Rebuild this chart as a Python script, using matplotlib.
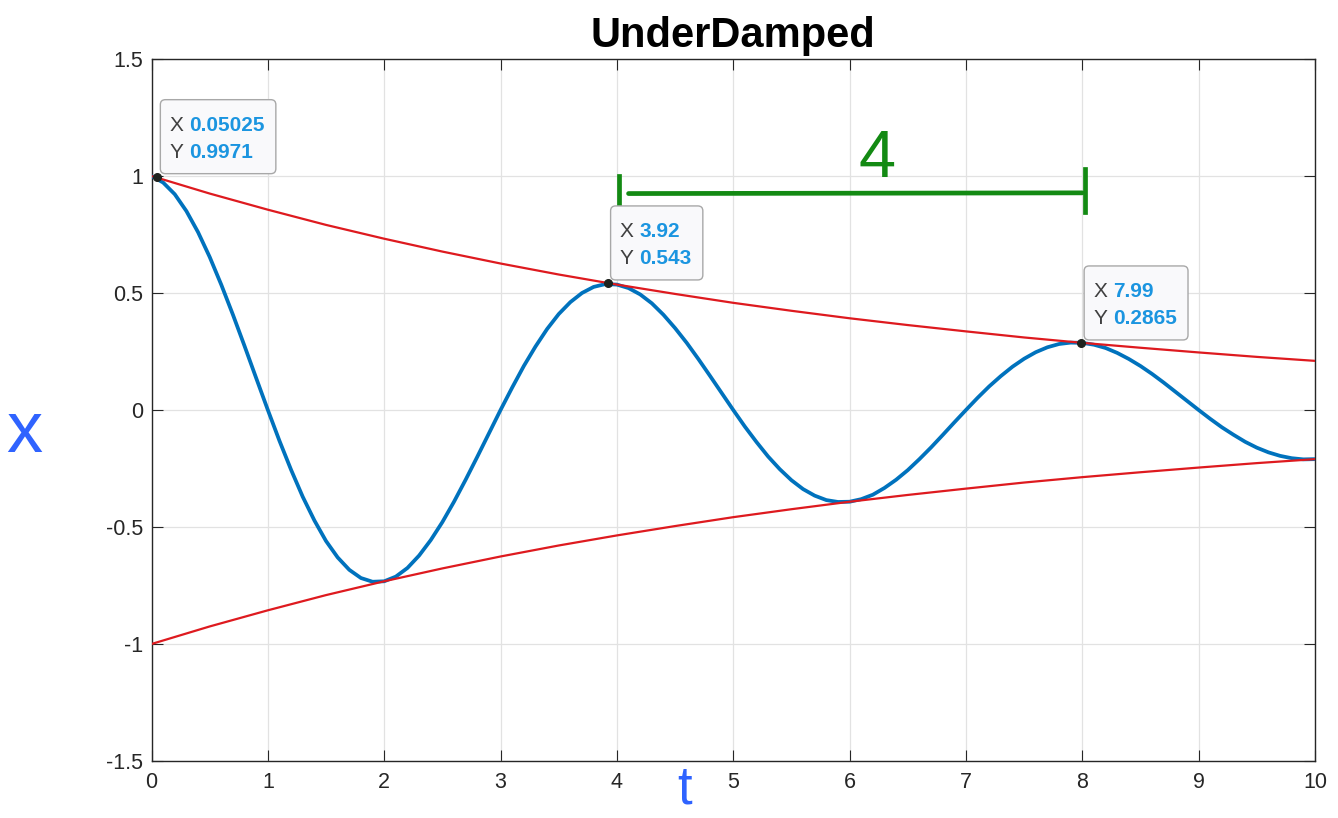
import numpy as np
import matplotlib
matplotlib.use("Agg")
import matplotlib.pyplot as plt
import matplotlib.transforms as mtransforms
from matplotlib.patches import FancyBboxPatch
from matplotlib.ticker import FuncFormatter

# response x(t), every 0.1 s from t=0 to t=10
t_step = 0.1
x_vals = [
    1.000, 0.972, 0.922, 0.850, 0.760, 0.654, 0.535, 0.407, 0.273, 0.136,
    0.000, -0.132, -0.256, -0.371, -0.472, -0.560, -0.630, -0.683, -0.718, -0.734,
    -0.732, -0.712, -0.675, -0.622, -0.556, -0.479, -0.392, -0.298, -0.200, -0.100,
    0.000, 0.096, 0.188, 0.271, 0.346, 0.410, 0.461, 0.500, 0.526, 0.538,
    0.536, 0.521, 0.494, 0.456, 0.407, 0.350, 0.287, 0.218, 0.146, 0.073,
    0.000, -0.071, -0.137, -0.199, -0.253, -0.300, -0.338, -0.366, -0.385, -0.393,
    -0.392, -0.381, -0.362, -0.333, -0.298, -0.257, -0.210, -0.160, -0.107, -0.053,
    0.000, 0.052, 0.101, 0.145, 0.185, 0.219, 0.247, 0.268, 0.282, 0.288,
    0.287, 0.279, 0.265, 0.244, 0.218, 0.188, 0.154, 0.117, 0.078, 0.039,
    0.000, -0.038, -0.074, -0.106, -0.136, -0.161, -0.181, -0.196, -0.206, -0.211,
    -0.210,
]

# decay envelope, every 0.5 s
env_step = 0.5
env_vals = [1.000, 0.925, 0.856, 0.791, 0.732, 0.677, 0.626, 0.579, 0.536, 0.496,
            0.458, 0.424, 0.392, 0.363, 0.336, 0.310, 0.287, 0.266, 0.246, 0.227,
            0.210]

# data tips
tip_x = [0.05025, 3.92, 7.99]
tip_y = [0.9971, 0.543, 0.2865]

# hand drawn period mark
period_span = [4, 8]

t = np.arange(len(x_vals)) * t_step
t_env = np.arange(len(env_vals)) * env_step
env = np.array(env_vals)

plt.rcParams["font.family"] = ["Liberation Sans", "DejaVu Sans"]
plt.rcParams["axes.unicode_minus"] = False

fig = plt.figure(figsize=(13.38, 8.18), dpi=100)
ax = fig.add_axes([151.5 / 1338, 1 - 761 / 818, (1315 - 151.5) / 1338, (761 - 59) / 818])

ax.plot(t, x_vals, color="#0072BD", lw=2.7, zorder=3,
        solid_joinstyle="round", solid_capstyle="round")
ax.plot(t_env, env, color="#de1a1f", lw=1.6, zorder=4)
ax.plot(t_env, -env, color="#de1a1f", lw=1.6, zorder=4)

ax.set_xlim(0, 10)
ax.set_ylim(-1.5, 1.5)
ax.set_xticks(np.arange(0, 11, 1))
ax.set_yticks(np.arange(-1.5, 1.51, 0.5))
ax.xaxis.set_major_formatter(FuncFormatter(lambda v, p: "%g" % v))
ax.yaxis.set_major_formatter(FuncFormatter(lambda v, p: "%g" % v))
ax.grid(True, color="#e2e2e2", lw=0.9)
ax.set_axisbelow(True)
ax.tick_params(direction="in", length=8, width=0.8, top=True, right=True,
               labelsize=15.5, labelcolor="#262626", color="#262626")
ax.tick_params(axis="x", pad=8)
ax.tick_params(axis="y", pad=6)
for s in ax.spines.values():
    s.set_color("#262626")
    s.set_linewidth(1.0)

ax.set_title("UnderDamped", fontsize=30, fontweight="bold", pad=9)

# data tips: dot + box with X / Y readout
value_texts = []
for xv, yv in zip(tip_x, tip_y):
    ax.plot(xv, yv, "o", ms=5.5, color="#1f231f", zorder=6, clip_on=False)
    tr = mtransforms.IdentityTransform() + mtransforms.ScaledTranslation(xv, yv, ax.transData)
    for lab, val, v in (("X", xv, 51), ("Y", yv, 24)):
        ax.text(12, v, lab, transform=tr, fontsize=15, color="#404040",
                va="center", ha="left", zorder=9, clip_on=False)
        vt = ax.text(32, v, "%.4g" % val, transform=tr, fontsize=15, color="#1b95e0",
                     fontweight="bold", va="center", ha="left", zorder=9, clip_on=False)
        value_texts.append((vt, tr))

fig.canvas.draw()
for i in range(len(tip_x)):
    (t1, tr), (t2, _) = value_texts[2 * i], value_texts[2 * i + 1]
    px = ax.transData.transform((tip_x[i], tip_y[i]))[0]
    right = max(t1.get_window_extent().x1, t2.get_window_extent().x1) - px
    box = FancyBboxPatch((3, 3), right + 8, 74, boxstyle="round,pad=0,rounding_size=5",
                         transform=tr, fc="#f9f9fb", ec="#a8a8a8", lw=1.0,
                         zorder=8, clip_on=False)
    ax.add_artist(box)

# hand drawn marks
green = "#138a13"
ax.plot([period_span[0] + 0.1, period_span[1]], [0.925, 0.928], color=green, lw=3.4,
        clip_on=False, zorder=5, solid_capstyle="round")
ax.plot([period_span[0] + 0.02] * 2, [0.865, 1.0], color=green, lw=3.4, clip_on=False, zorder=5)
ax.plot([period_span[1] + 0.02] * 2, [0.845, 1.03], color=green, lw=3.4, clip_on=False, zorder=5)
fig.text(877 / 1338, 1 - 160 / 818, "%g" % (period_span[1] - period_span[0]),
         fontsize=48, color=green, ha="center", va="center")

fig.text(24 / 1338, 1 - 434 / 818, "x", fontsize=52, color="#2f63ff",
         ha="center", va="center")
fig.text(685 / 1338, 1 - 790 / 818, "t", fontsize=38, color="#2f63ff",
         ha="center", va="center")

fig.savefig("out.png", dpi=100)
